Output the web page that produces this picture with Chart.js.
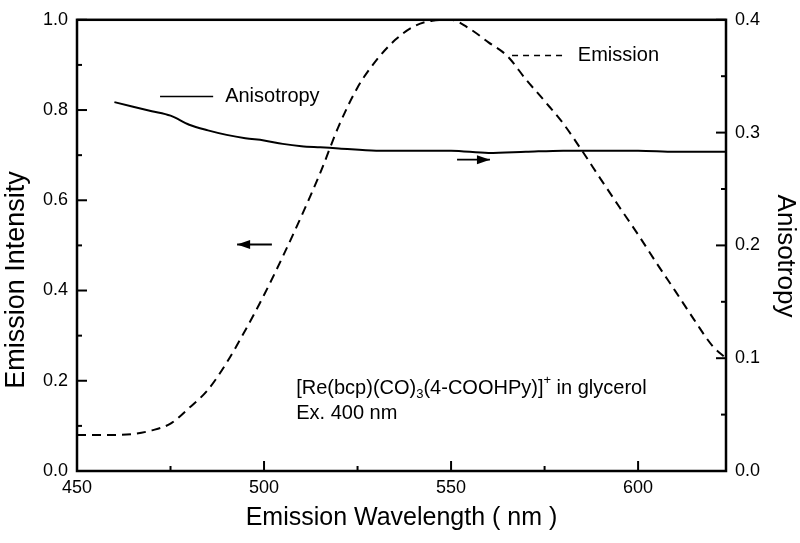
<!DOCTYPE html>
<html><head><meta charset="utf-8">
<script src="https://cdn.jsdelivr.net/npm/chart.js@4/dist/chart.umd.min.js"></script>
<style>html,body{margin:0;padding:0;background:#fff}</style>
</head><body>
<canvas id="c" width="800" height="543"></canvas>
<script>
// ---- data ----
const emWavelength = [450,455,460,465,470,475,480,485,490,495,500,505,510,515,520,525,530,535,540,545,550,555,560,565,570,575,580,585,590,595,600,605,610,615,620,623.5];
const emIntensity  = [0.080,0.080,0.080,0.082,0.090,0.105,0.140,0.180,0.240,0.312,0.390,0.475,0.565,0.660,0.765,0.850,0.910,0.955,0.985,0.998,1.000,0.980,0.950,0.920,0.868,0.820,0.770,0.710,0.647,0.585,0.524,0.460,0.398,0.335,0.276,0.250];
const anWavelength = [460,465,470,475,480,485,490,495,500,505,510,515,520,530,540,550,560,570,580,590,600,610,623.5];
const anValue      = [0.327,0.323,0.319,0.315,0.307,0.302,0.298,0.295,0.293,0.290,0.288,0.287,0.286,0.284,0.284,0.284,0.282,0.283,0.284,0.284,0.284,0.283,0.283];

const xTickValues     = [450,500,550,600];
const xMinorValues    = [475,525,575];
const yLeftTicks      = [0,0.2,0.4,0.6,0.8,1.0];
const yLeftMinor      = [0.1,0.3,0.5,0.7,0.9];
const yRightTicks     = [0,0.1,0.2,0.3,0.4];
const yRightMinor     = [0.05,0.15,0.25,0.35];

const leftTitle  = 'Emission Intensity';
const rightTitle = 'Anisotropy';

const FONT = "'Liberation Sans', Arial, sans-serif";

const toXY = (xs, ys) => xs.map((x,i)=>({x:x,y:ys[i]}));

const decor = {
  id:'decor',
  afterDraw(chart){
    const ctx = chart.ctx, a = chart.chartArea;
    const X = chart.scales.x, YL = chart.scales.y, YR = chart.scales.y1;
    ctx.save();
    ctx.strokeStyle = '#000'; ctx.fillStyle = '#000';
    // frame
    ctx.lineWidth = 2.5;
    ctx.strokeRect(a.left, a.top, a.right-a.left, a.bottom-a.top);
    // inward ticks
    ctx.lineWidth = 2;
    const vt = (v, len, side, sc) => {
      const y = sc.getPixelForValue(v);
      ctx.beginPath();
      if (side==='l'){ ctx.moveTo(a.left, y); ctx.lineTo(a.left+len, y); }
      else { ctx.moveTo(a.right, y); ctx.lineTo(a.right-len, y); }
      ctx.stroke();
    };
    yLeftTicks.forEach(v=>vt(v,10,'l',YL));
    yLeftMinor.forEach(v=>vt(v,5,'l',YL));
    yRightTicks.forEach(v=>vt(v,10,'r',YR));
    yRightMinor.forEach(v=>vt(v,5,'r',YR));
    const ht = (v,len)=>{const x=X.getPixelForValue(v);ctx.beginPath();ctx.moveTo(x,a.bottom);ctx.lineTo(x,a.bottom-len);ctx.stroke();};
    xTickValues.forEach(v=>ht(v,10));
    xMinorValues.forEach(v=>ht(v,5));

    // axis titles (y)
    ctx.textAlign='center'; ctx.textBaseline='middle';
    ctx.save(); ctx.translate(17, 280); ctx.rotate(-Math.PI/2);
    ctx.font = '27px ' + FONT; ctx.fillText(leftTitle, 0, 0); ctx.restore();
    ctx.save(); ctx.translate(785, 256); ctx.rotate(Math.PI/2);
    ctx.font = '26px ' + FONT; ctx.fillText(rightTitle, 0, 0); ctx.restore();

    // legend-like annotations (data units: nm, left-axis value)
    const px = v=>X.getPixelForValue(v), py = v=>YL.getPixelForValue(v);
    ctx.lineWidth = 1.6;
    ctx.beginPath(); ctx.moveTo(px(472.2), py(0.83)); ctx.lineTo(px(486.4), py(0.83)); ctx.stroke();
    ctx.setLineDash([6,5]);
    ctx.beginPath(); ctx.moveTo(px(566.3), py(0.921)); ctx.lineTo(px(581), py(0.921)); ctx.stroke();
    ctx.setLineDash([]);
    ctx.font = '20px ' + FONT; ctx.textBaseline='middle'; ctx.textAlign='left';
    ctx.fillText('Anisotropy', px(489.6), py(0.83));
    ctx.fillText('Emission', px(583.9), py(0.921));

    // arrows
    const arrow = (x1,x2,yv,dir)=>{
      const xa=px(x1), xb=px(x2), y=py(yv);
      ctx.lineWidth=1.8;
      ctx.beginPath(); ctx.moveTo(xa,y); ctx.lineTo(xb,y); ctx.stroke();
      const tip = dir<0? xa : xb;
      ctx.beginPath(); ctx.moveTo(tip,y); ctx.lineTo(tip-dir*13,y-4.5); ctx.lineTo(tip-dir*13,y+4.5); ctx.closePath(); ctx.fill();
    };
    arrow(492.8,502.1,0.502,-1);
    arrow(551.6,560.4,0.69,1);

    // compound label with sub/superscripts
    const parts = [['[Re(bcp)(CO)','n'],['3','sub'],['(4-COOHPy)]','n'],['+','sup'],[' in glycerol','n']];
    let x = px(508.6); const y0 = py(0.183);
    parts.forEach(([t,k])=>{
      if(k==='n'){ ctx.font='20px '+FONT; ctx.fillText(t,x,y0); }
      else if(k==='sub'){ ctx.font='13px '+FONT; ctx.fillText(t,x,y0+6); }
      else { ctx.font='13px '+FONT; ctx.fillText(t,x,y0-8); }
      x += ctx.measureText(t).width;
    });
    ctx.font='20px '+FONT;
    ctx.fillText('Ex. 400 nm', px(508.6), py(0.127));
    ctx.restore();
  }
};

const setTicks = arr => function(scale){ scale.ticks = arr.map(v=>({value:v})); };

new Chart(document.getElementById('c'), {
  type:'line',
  data:{ datasets:[
    { label:'Emission', data:toXY(emWavelength, emIntensity), yAxisID:'y', borderColor:'#000', borderWidth:2, borderDash:[9,6], pointRadius:0, fill:false, cubicInterpolationMode:'monotone' },
    { label:'Anisotropy', data:toXY(anWavelength, anValue), yAxisID:'y1', borderColor:'#000', borderWidth:2, pointRadius:0, fill:false, cubicInterpolationMode:'monotone' }
  ]},
  options:{
    responsive:false, animation:false, devicePixelRatio:1,
    layout:{ padding:{ top:13, left:0, right:0, bottom:0 } },
    plugins:{ legend:{display:false}, tooltip:{enabled:false} },
    scales:{
      x:{ type:'linear', min:450, max:623.5, afterBuildTicks:setTicks(xTickValues),
          afterFit(s){ s.height = 72; },
          grid:{display:false, drawTicks:false}, border:{display:false},
          ticks:{ padding:6, color:'#000', font:{family:FONT, size:18}, maxRotation:0, callback:v=>String(v) },
          title:{ display:true, text:'Emission Wavelength ( nm )', color:'#000', font:{family:FONT, size:25}, padding:{top:0,bottom:10} } },
      y:{ position:'left', min:0, max:1, afterBuildTicks:setTicks(yLeftTicks),
          afterFit(s){ s.width = 77; },
          grid:{display:false, drawTicks:false}, border:{display:false},
          ticks:{ padding:9, color:'#000', font:{family:FONT, size:18}, callback:v=>v.toFixed(1) } },
      y1:{ position:'right', min:0, max:0.4, afterBuildTicks:setTicks(yRightTicks),
          afterFit(s){ s.width = 74; },
          grid:{display:false, drawTicks:false}, border:{display:false},
          ticks:{ padding:9, color:'#000', font:{family:FONT, size:18}, callback:v=>v.toFixed(1) } }
    }
  },
  plugins:[decor]
});
</script>
</body></html>
